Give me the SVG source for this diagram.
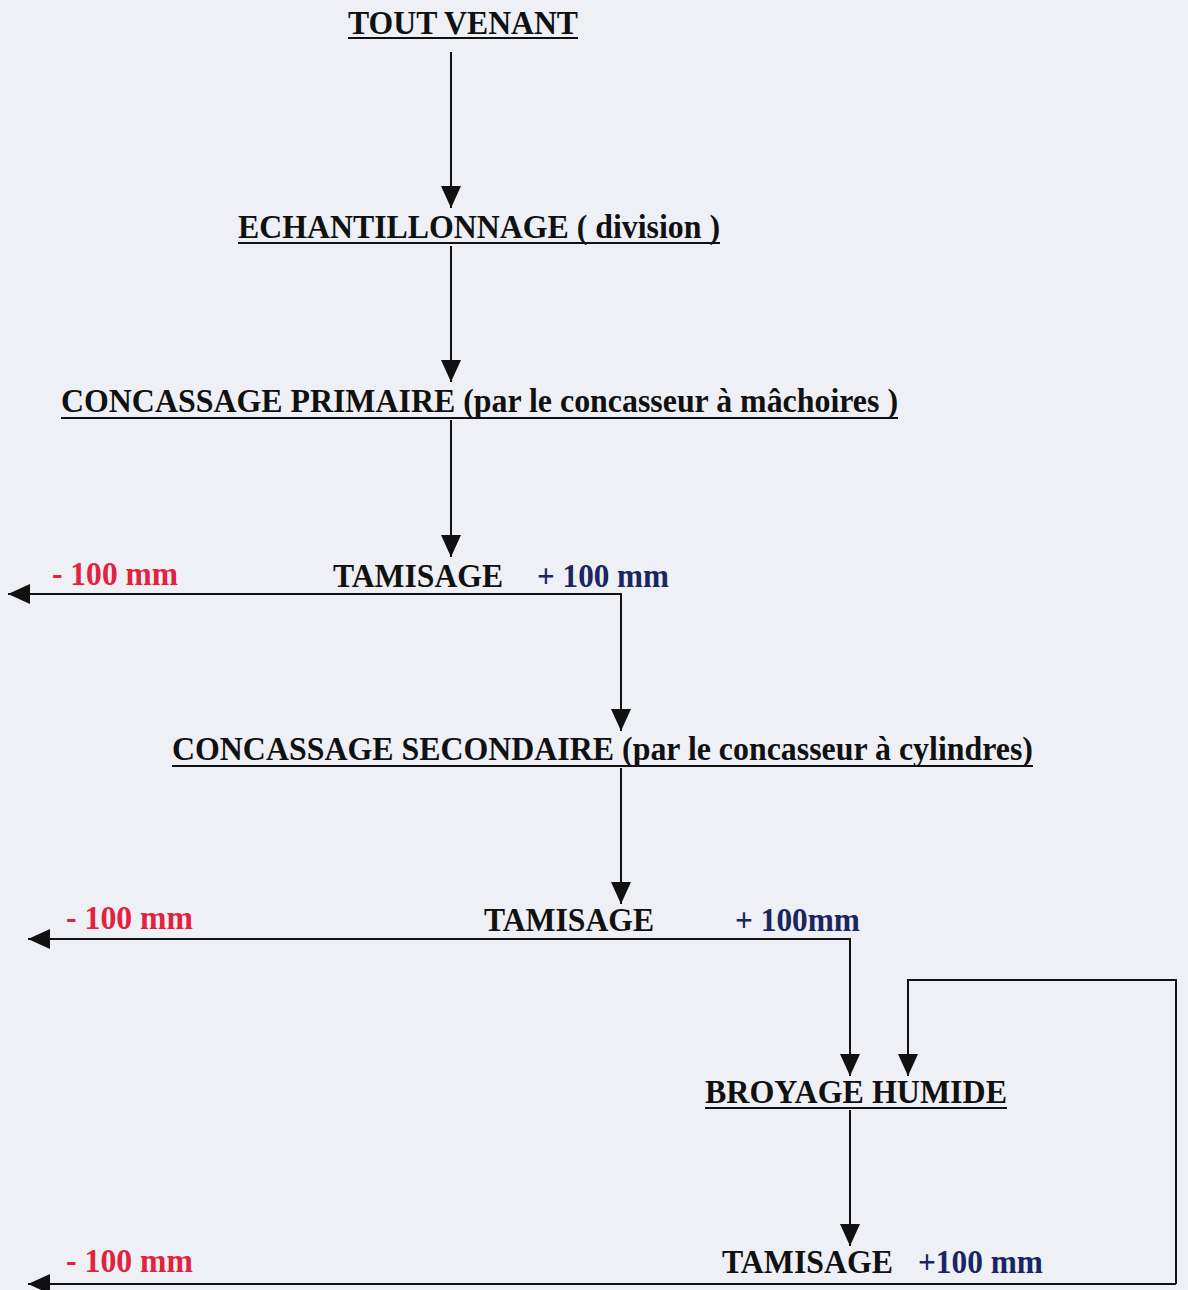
<svg xmlns="http://www.w3.org/2000/svg" width="1188" height="1290" viewBox="0 0 1188 1290">
<defs>
<style>
.t{font-family:"Liberation Serif","Times New Roman",serif;font-weight:bold;font-size:33px;fill:#111}
.r{fill:#e0233f}
.b{fill:#1b2660}
.u{stroke:#111;stroke-width:2}
.c{stroke:#111;stroke-width:2;fill:none}
</style>
<marker id="ah" markerWidth="22" markerHeight="20" refX="22" refY="10" orient="auto" markerUnits="userSpaceOnUse">
<path d="M0,0 L22,10 L0,20 Z" fill="#111"/>
</marker>
</defs>
<rect width="1188" height="1290" fill="#eef0f6"/>
<g id="connectors">
<line class="c" x1="451" y1="52" x2="451" y2="208" marker-end="url(#ah)"/>
<line class="c" x1="451" y1="246" x2="451" y2="382" marker-end="url(#ah)"/>
<line class="c" x1="451" y1="420" x2="451" y2="557" marker-end="url(#ah)"/>
<polyline class="c" points="621,730 621,594 8,594" marker-end="url(#ah)"/>
<line class="c" x1="621" y1="594" x2="621" y2="731" marker-end="url(#ah)"/>
<line class="c" x1="621" y1="768" x2="621" y2="904" marker-end="url(#ah)"/>
<polyline class="c" points="850,1000 850,939 28,939" marker-end="url(#ah)"/>
<line class="c" x1="850" y1="939" x2="850" y2="1076" marker-end="url(#ah)"/>
<polyline class="c" points="1176,1284 1176,980 908,980 908,1076" marker-end="url(#ah)"/>
<line class="c" x1="850" y1="1110" x2="850" y2="1246" marker-end="url(#ah)"/>
<line class="c" x1="1176" y1="1284" x2="28" y2="1284" marker-end="url(#ah)"/>
</g>
<g id="tout-venant">
<text class="t" x="348" y="34" textLength="230" lengthAdjust="spacingAndGlyphs">TOUT VENANT</text>
<line class="u" x1="348" y1="38" x2="578" y2="38"/>
</g>
<g id="echantillonnage">
<text class="t" x="238" y="238" textLength="482" lengthAdjust="spacingAndGlyphs">ECHANTILLONNAGE ( division )</text>
<line class="u" x1="238" y1="243" x2="720" y2="243"/>
</g>
<g id="concassage-primaire">
<text class="t" x="61" y="412" textLength="837" lengthAdjust="spacingAndGlyphs">CONCASSAGE PRIMAIRE (par le concasseur à mâchoires )</text>
<line class="u" x1="61" y1="418" x2="898" y2="418"/>
</g>
<g id="tamisage-1">
<text class="t" x="333" y="587" textLength="170" lengthAdjust="spacingAndGlyphs">TAMISAGE</text>
<text class="t r" x="52" y="585" textLength="126" lengthAdjust="spacingAndGlyphs">- 100 mm</text>
<text class="t b" x="537" y="587" textLength="132" lengthAdjust="spacingAndGlyphs">+ 100 mm</text>
</g>
<g id="concassage-secondaire">
<text class="t" x="172" y="760" textLength="861" lengthAdjust="spacingAndGlyphs">CONCASSAGE SECONDAIRE (par le concasseur à cylindres)</text>
<line class="u" x1="172" y1="766" x2="1033" y2="766"/>
</g>
<g id="tamisage-2">
<text class="t" x="484" y="931" textLength="170" lengthAdjust="spacingAndGlyphs">TAMISAGE</text>
<text class="t r" x="66" y="929" textLength="127" lengthAdjust="spacingAndGlyphs">- 100 mm</text>
<text class="t b" x="735" y="931" textLength="125" lengthAdjust="spacingAndGlyphs">+ 100mm</text>
</g>
<g id="broyage-humide">
<text class="t" x="705" y="1103" textLength="302" lengthAdjust="spacingAndGlyphs">BROYAGE HUMIDE</text>
<line class="u" x1="705" y1="1108" x2="1007" y2="1108"/>
</g>
<g id="tamisage-3">
<text class="t" x="722" y="1273" textLength="171" lengthAdjust="spacingAndGlyphs">TAMISAGE</text>
<text class="t r" x="66" y="1272" textLength="127" lengthAdjust="spacingAndGlyphs">- 100 mm</text>
<text class="t b" x="918" y="1273" textLength="125" lengthAdjust="spacingAndGlyphs">+100 mm</text>
</g>
</svg>
